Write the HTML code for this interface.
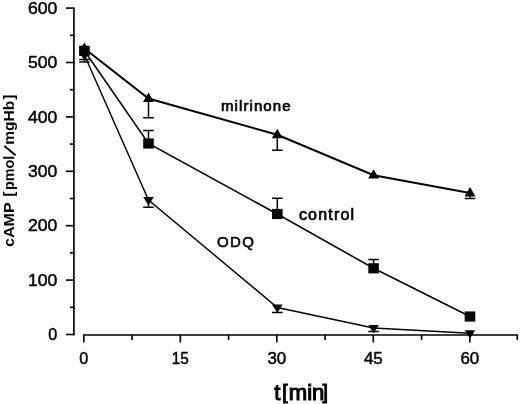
<!DOCTYPE html>
<html><head><meta charset="utf-8"><title>cAMP</title>
<style>
html,body{margin:0;padding:0;background:#fff;}
body{width:520px;height:404px;overflow:hidden;font-family:"Liberation Sans",sans-serif;}
svg{display:block;opacity:0.999;will-change:transform;}
text{font-family:"Liberation Sans",sans-serif;fill:#050505;}
</style></head><body>
<svg width="520" height="404" viewBox="0 0 520 404">
<rect width="520" height="404" fill="#fff"/>

<g stroke="#000" stroke-width="1.65" fill="none" stroke-linecap="butt">
<path d="M73.9,8.1V335.2"/>
<path d="M65.9,334.5H74.6"/>
<path d="M69.8,307.3H74.6"/>
<path d="M65.9,280.1H74.6"/>
<path d="M69.8,252.9H74.6"/>
<path d="M65.9,225.7H74.6"/>
<path d="M69.8,198.5H74.6"/>
<path d="M65.9,171.3H74.6"/>
<path d="M69.8,144.1H74.6"/>
<path d="M65.9,116.9H74.6"/>
<path d="M69.8,89.7H74.6"/>
<path d="M65.9,62.5H74.6"/>
<path d="M69.8,35.3H74.6"/>
<path d="M65.9,8.1H74.6"/>
<path d="M83.0,335.0H518.0"/>
<path d="M83.8,335V342.4"/>
<path d="M132.1,335V339.9"/>
<path d="M180.3,335V342.4"/>
<path d="M228.6,335V339.9"/>
<path d="M276.8,335V342.4"/>
<path d="M325.1,335V339.9"/>
<path d="M373.3,335V342.4"/>
<path d="M421.6,335V339.9"/>
<path d="M469.8,335V342.4"/>
<path d="M517.3,335V339.9"/>
</g>
<polyline points="84.4,48.5 148.5,98.5 277.3,134.8 373.6,175.2 470.0,193.0" fill="none" stroke="#050505" stroke-width="2.0"/>
<polyline points="84.4,50.8 148.5,143.5 277.3,214.0 373.6,268.3 470.0,316.5" fill="none" stroke="#050505" stroke-width="1.6"/>
<polyline points="84.4,55.0 148.5,200.0 277.3,307.5 373.6,328.0 470.0,333.2" fill="none" stroke="#050505" stroke-width="1.45"/>
<g stroke="#050505" stroke-width="1.5" fill="none">
<path d="M84.4,50.0V59.5M79.2,59.5H89.6"/>
<path d="M84.4,50.0V61.9M79.2,61.9H89.6"/>
<path d="M148.5,98.5V117.7M143.2,117.7H153.8"/>
<path d="M277.3,134.8V150.2M272.0,150.2H282.6"/>
<path d="M470.0,193.0V198.4M464.7,198.4H475.3"/>
<path d="M148.5,143.5V130.6M143.2,130.6H153.8"/>
<path d="M277.3,214.0V198.2M272.0,198.2H282.6"/>
<path d="M373.6,268.3V259.6M368.3,259.6H378.9"/>
<path d="M148.5,200.0V207.2M143.2,207.2H153.8"/>
<path d="M277.3,307.5V312.4M272.0,312.4H282.6"/>
<path d="M373.6,328.0V331.4M368.3,331.4H378.9"/>
</g>
<g fill="#050505" stroke="none">
<polygon points="84.4,42.5 78.9,51.9 89.9,51.9"/>
<polygon points="148.5,92.5 143.0,101.9 154.0,101.9"/>
<polygon points="277.3,128.8 271.8,138.2 282.8,138.2"/>
<polygon points="373.6,169.2 368.1,178.6 379.1,178.6"/>
<polygon points="470.0,187.0 464.5,196.4 475.5,196.4"/>
<rect x="79.1" y="45.7" width="10.6" height="10.2"/>
<rect x="143.2" y="138.4" width="10.6" height="10.2"/>
<rect x="272.0" y="208.9" width="10.6" height="10.2"/>
<rect x="368.3" y="263.2" width="10.6" height="10.2"/>
<rect x="464.7" y="311.4" width="10.6" height="10.2"/>
<polygon points="84.4,60.4 79.1,52.0 89.7,52.0"/>
<polygon points="148.5,205.4 143.2,197.0 153.8,197.0"/>
<polygon points="277.3,312.9 272.0,304.5 282.6,304.5"/>
<polygon points="373.6,333.4 368.3,325.0 378.9,325.0"/>
<polygon points="470.0,338.6 464.7,330.2 475.3,330.2"/>
</g>
<text x="57.2" y="340.1" font-size="16.5" text-anchor="end" font-weight="normal" stroke="#050505" stroke-width="0.5" textLength="9.0" lengthAdjust="spacingAndGlyphs">0</text>
<text x="57.2" y="285.7" font-size="16.5" text-anchor="end" font-weight="normal" stroke="#050505" stroke-width="0.5" textLength="29.3" lengthAdjust="spacingAndGlyphs">100</text>
<text x="57.2" y="231.3" font-size="16.5" text-anchor="end" font-weight="normal" stroke="#050505" stroke-width="0.5" textLength="29.3" lengthAdjust="spacingAndGlyphs">200</text>
<text x="57.2" y="176.9" font-size="16.5" text-anchor="end" font-weight="normal" stroke="#050505" stroke-width="0.5" textLength="29.3" lengthAdjust="spacingAndGlyphs">300</text>
<text x="57.2" y="122.5" font-size="16.5" text-anchor="end" font-weight="normal" stroke="#050505" stroke-width="0.5" textLength="29.3" lengthAdjust="spacingAndGlyphs">400</text>
<text x="57.2" y="68.1" font-size="16.5" text-anchor="end" font-weight="normal" stroke="#050505" stroke-width="0.5" textLength="29.3" lengthAdjust="spacingAndGlyphs">500</text>
<text x="57.2" y="13.7" font-size="16.5" text-anchor="end" font-weight="normal" stroke="#050505" stroke-width="0.5" textLength="29.3" lengthAdjust="spacingAndGlyphs">600</text>
<text x="83.8" y="364.1" font-size="16.5" text-anchor="middle" font-weight="normal" stroke="#050505" stroke-width="0.5" textLength="9.0" lengthAdjust="spacingAndGlyphs">0</text>
<text x="180.3" y="364.1" font-size="16.5" text-anchor="middle" font-weight="normal" stroke="#050505" stroke-width="0.5" textLength="17.0" lengthAdjust="spacingAndGlyphs">15</text>
<text x="276.8" y="364.1" font-size="16.5" text-anchor="middle" font-weight="normal" stroke="#050505" stroke-width="0.5" textLength="18.8" lengthAdjust="spacingAndGlyphs">30</text>
<text x="373.3" y="364.1" font-size="16.5" text-anchor="middle" font-weight="normal" stroke="#050505" stroke-width="0.5" textLength="18.8" lengthAdjust="spacingAndGlyphs">45</text>
<text x="469.8" y="364.1" font-size="16.5" text-anchor="middle" font-weight="normal" stroke="#050505" stroke-width="0.5" textLength="18.8" lengthAdjust="spacingAndGlyphs">60</text>
<text x="220.9" y="111.0" font-size="15" text-anchor="start" font-weight="normal" stroke="#050505" stroke-width="0.7" textLength="69.7" lengthAdjust="spacing">milrinone</text>
<text x="298.9" y="219.5" font-size="16" text-anchor="start" font-weight="normal" stroke="#050505" stroke-width="0.7" textLength="55.2" lengthAdjust="spacing">control</text>
<text x="217" y="246.5" font-size="15" text-anchor="start" font-weight="normal" stroke="#050505" stroke-width="0.6" textLength="37.0" lengthAdjust="spacing">ODQ</text>
<g stroke="#050505" stroke-width="1.1" font-size="22"><text x="274.3" y="400.3">t</text><text x="282.2" y="399.0" font-size="19.5">[</text><text x="288.8" y="400.3" textLength="35.6" lengthAdjust="spacingAndGlyphs">min</text><text x="322.6" y="399.0" font-size="19.5">]</text></g>
<path d="M15.6,155.2L4.3,146.0" stroke="#050505" stroke-width="2" fill="none"/>
<text transform="translate(13.8,247.0) rotate(-90)" font-size="15" font-weight="bold" textLength="44.6" lengthAdjust="spacingAndGlyphs">cAMP</text>
<text transform="translate(13.8,196.4) rotate(-90)" font-size="15" font-weight="bold">[</text>
<text transform="translate(13.8,190.0) rotate(-90)" font-size="15" font-weight="bold" textLength="34.2" lengthAdjust="spacingAndGlyphs">pmol</text>
<text transform="translate(13.8,144.7) rotate(-90)" font-size="15" font-weight="bold" textLength="44.0" lengthAdjust="spacingAndGlyphs">mgHb</text>
<text transform="translate(13.8,99.8) rotate(-90)" font-size="15" font-weight="bold">]</text>
</svg></body></html>
